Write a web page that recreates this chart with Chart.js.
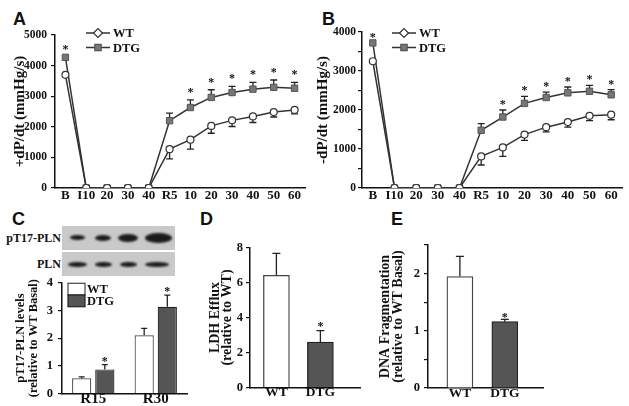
<!DOCTYPE html>
<html lang="en">
<head>
<meta charset="UTF-8">
<title>Cardiac function panels</title>
<script src="https://cdn.jsdelivr.net/npm/chart.js"></script>
<style>
  body { margin: 0; width: 629px; height: 406px; position: relative; overflow: hidden; background: #fff; }
  canvas, .letter, .blot, .blotLabel { position: absolute; }
  .letter { font: bold 18px "Liberation Sans", Arial, sans-serif; line-height: 18px; color: #111; }
  .blot { background: #c9c9c9; }
  .blot span { position: absolute; background: #1b1b1b; border-radius: 50%; filter: blur(1px); }
  .blotLabel { font: bold 12px "Liberation Serif", serif; line-height: 14px; color: #111; text-align: right; width: 80px; }
</style>
</head>
<body>
  <div class="letter" style="left:13px;top:10px">A</div>
  <div class="letter" style="left:322px;top:10px">B</div>
  <div class="letter" style="left:12px;top:210px">C</div>
  <div class="letter" style="left:200px;top:210px">D</div>
  <div class="letter" style="left:391px;top:210px">E</div>

  <!-- western blot, top: pT17-PLN, bottom: PLN -->
  <div class="blotLabel" style="left:-19px;top:231px">pT17-PLN</div>
  <div class="blotLabel" style="left:-19px;top:257px">PLN</div>
  <div class="blot" style="left:62px;top:226px;width:113px;height:24px">
    <span style="left:8px;top:9px;width:15px;height:5px"></span>
    <span style="left:33px;top:9px;width:16px;height:6px"></span>
    <span style="left:56px;top:8px;width:20px;height:8px"></span>
    <span style="left:83px;top:7px;width:27px;height:10px"></span>
  </div>
  <div class="blot" style="left:62px;top:252px;width:113px;height:24px">
    <span style="left:6px;top:10px;width:19px;height:5px"></span>
    <span style="left:33px;top:10px;width:17px;height:5px"></span>
    <span style="left:58px;top:10px;width:17px;height:5px"></span>
    <span style="left:83px;top:10px;width:24px;height:5px"></span>
  </div>

  <canvas id="chartA" width="312" height="190" style="left:0;top:20px"></canvas>
  <canvas id="chartB" width="317" height="190" style="left:312px;top:20px"></canvas>
  <canvas id="chartC" width="195" height="136" style="left:0;top:270px"></canvas>
  <canvas id="chartD" width="180" height="171" style="left:190px;top:235px"></canvas>
  <canvas id="chartE" width="190" height="176" style="left:370px;top:230px"></canvas>

<script>
// time points: baseline, ischemia, reperfusion
const timeLabels = ['B', 'I10', '20', '30', '40', 'R5', '10', '20', '30', '40', '50', '60'];

// A: +dP/dt
const wtA     = [3700, 0, 0, 0, 0, 1270, 1580, 2030, 2210, 2340, 2480, 2550];
const wtErrA  = [0, 0, 0, 0, 0, 320, 310, 240, 200, 200, 160, 130];
const dtgA    = [4270, 0, 0, 0, 0, 2200, 2630, 2960, 3120, 3230, 3290, 3260];
const dtgErrA = [0, 0, 0, 0, 0, 250, 250, 250, 200, 220, 240, 190];
const starsA  = [1, 0, 0, 0, 0, 0, 1, 1, 1, 1, 1, 1];

// B: -dP/dt
const wtB     = [3250, 0, 0, 0, 0, 810, 1040, 1370, 1560, 1690, 1850, 1880];
const wtErrB  = [0, 0, 0, 0, 0, 220, 230, 150, 120, 130, 120, 130];
const dtgB    = [3720, 0, 0, 0, 0, 1480, 1820, 2170, 2320, 2440, 2480, 2390];
const dtgErrB = [0, 0, 0, 0, 0, 170, 180, 180, 140, 150, 150, 130];
const starsB  = [1, 0, 0, 0, 0, 0, 1, 1, 1, 1, 1, 1];

// C: pT17-PLN levels
const plnLabels = ['R15', 'R30'];
const wtC     = [0.55, 2.1];
const wtErrC  = [0.05, 0.25];
const dtgC    = [0.87, 3.13];
const dtgErrC = [0.17, 0.42];
const starsC  = [1, 1];

// D: LDH efflux, E: DNA fragmentation
const groupLabels = ['WT', 'DTG'];
const ldhD     = [6.4, 2.6];
const ldhErrD  = [1.25, 0.65];
const dnaE     = [1.95, 1.16];
const dnaErrE  = [0.35, 0.04];
const groupStars = [0, 1];

const serif = '"Liberation Serif", "Times New Roman", serif';
const ink = '#111';

// vertical error bars, drawn under the markers
const errorBars = {
  id: 'errorBars',
  beforeDatasetsDraw(chart) {
    const ctx = chart.ctx, yScale = chart.scales.y;
    chart.data.datasets.forEach((ds, di) => {
      if (!ds.errors) return;
      const meta = chart.getDatasetMeta(di);
      ctx.save();
      ctx.strokeStyle = '#222';
      ctx.lineWidth = 1.3;
      meta.data.forEach((el, i) => {
        const e = ds.errors[i];
        if (!e) return;
        const v = meta.controller.getParsed(i).y;
        const y1 = yScale.getPixelForValue(v + ds.errorDir * e);
        const cap = ds.capHalf || 3.5;
        ctx.beginPath();
        ctx.moveTo(el.x, el.y);
        ctx.lineTo(el.x, y1);
        ctx.moveTo(el.x - cap, y1);
        ctx.lineTo(el.x + cap, y1);
        ctx.stroke();
      });
      ctx.restore();
    });
  }
};

// significance asterisks above the upper error bar
const starMarks = {
  id: 'starMarks',
  afterDatasetsDraw(chart, args, opts) {
    const ctx = chart.ctx, yScale = chart.scales.y;
    chart.data.datasets.forEach((ds, di) => {
      if (!ds.stars) return;
      const meta = chart.getDatasetMeta(di);
      ctx.save();
      ctx.fillStyle = ink;
      ctx.font = 'bold 12px ' + serif;
      ctx.textAlign = 'center';
      ctx.textBaseline = 'alphabetic';
      meta.data.forEach((el, i) => {
        if (!ds.stars[i]) return;
        const v = meta.controller.getParsed(i).y;
        const top = yScale.getPixelForValue(v + (ds.errors ? ds.errors[i] : 0));
        ctx.fillText('*', el.x, top + opts.lift);
      });
      ctx.restore();
    });
  }
};

// line + marker legend
const lineKey = {
  id: 'lineKey',
  afterDraw(chart, args, o) {
    const ctx = chart.ctx;
    chart.data.datasets.forEach((ds, i) => {
      const y = o.y + i * o.gap;
      ctx.save();
      ctx.strokeStyle = ds.borderColor;
      ctx.lineWidth = ds.borderWidth;
      ctx.beginPath();
      ctx.moveTo(o.x, y);
      ctx.lineTo(o.x + o.len, y);
      ctx.stroke();
      ctx.fillStyle = ds.pointBackgroundColor;
      ctx.strokeStyle = ds.pointBorderColor;
      ctx.lineWidth = 1.2;
      Chart.helpers.drawPoint(ctx, { pointStyle: ds.keyStyle, radius: 4.5, rotation: 0, borderWidth: 1.2 }, o.x + o.len / 2, y);
      ctx.fillStyle = ink;
      ctx.font = 'bold 12.5px ' + serif;
      ctx.textBaseline = 'middle';
      ctx.fillText(ds.label, o.x + o.len + 3, y + 1);
      ctx.restore();
    });
  }
};

// stacked box legend for bar panel C
const boxKey = {
  id: 'boxKey',
  afterDraw(chart, args, o) {
    const ctx = chart.ctx;
    chart.data.datasets.forEach((ds, i) => {
      const y = o.y + i * o.h;
      ctx.save();
      ctx.fillStyle = ds.backgroundColor;
      ctx.strokeStyle = ds.borderColor;
      ctx.lineWidth = 1.2;
      ctx.fillRect(o.x, y, o.w, o.h);
      ctx.strokeRect(o.x, y, o.w, o.h);
      ctx.fillStyle = ink;
      ctx.font = 'bold 12.5px ' + serif;
      ctx.textBaseline = 'middle';
      ctx.fillText(ds.label, o.x + o.w + 2, y + o.h / 2 + 1);
      ctx.restore();
    });
  }
};

function yAxis(max, step, every, lay) {
  return {
    min: 0, max: max,
    ticks: {
      stepSize: step, color: ink, padding: lay.tickPad,
      font: { family: serif, size: lay.tickSize, weight: 'bold' },
      callback: v => (Math.abs(v / every - Math.round(v / every)) < 1e-6 ? v : '')
    },
    grid: { drawOnChartArea: false, tickLength: 4, color: ink, lineWidth: 1.2 },
    border: { color: ink, width: 1.5 },
    title: {
      display: true, text: lay.title, color: ink,
      font: { family: serif, size: lay.titleSize, weight: 'bold', lineHeight: lay.titleLh },
      padding: { top: lay.titlePad, bottom: 0 }
    },
    afterFit: s => { s.width = lay.yw; }
  };
}

function xBorder(size, pad) {
  return {
    grid: { display: false, drawTicks: false },
    border: { color: ink, width: 1.5 },
    ticks: { autoSkip: false, maxRotation: 0, padding: pad, color: ink,
             font: { family: serif, size: size, weight: 'bold' } }
  };
}

function linePanel(id, wt, wtErr, dtg, dtgErr, stars, yMax, lay) {
  return new Chart(document.getElementById(id), {
    type: 'line',
    data: {
      labels: timeLabels,
      datasets: [
        { label: 'WT', data: wt, errors: wtErr, errorDir: -1, borderColor: '#333', borderWidth: 1.5,
          pointStyle: 'circle', keyStyle: 'rectRot', pointRadius: 3.5, pointBackgroundColor: '#fff',
          pointBorderColor: '#333', pointBorderWidth: 1.2, tension: 0 },
        { label: 'DTG', data: dtg, errors: dtgErr, errorDir: 1, stars: stars, borderColor: '#333', borderWidth: 1.5,
          pointStyle: 'rect', keyStyle: 'rect', pointRadius: 4.5, pointBackgroundColor: '#777',
          pointBorderColor: '#555', pointBorderWidth: 1, tension: 0 }
      ]
    },
    options: {
      responsive: false, animation: false,
      layout: { padding: { left: 0, top: lay.top, right: lay.right, bottom: 0 } },
      plugins: {
        legend: { display: false }, tooltip: { enabled: false },
        lineKey: { x: lay.keyX, y: lay.keyY, gap: 14.5, len: 24 },
        starMarks: { lift: lay.lift }
      },
      scales: {
        x: Object.assign(xBorder(13, 0), { offset: true, afterFit: s => { s.height = lay.xh; } }),
        y: yAxis(yMax, 500, 1000, lay)
      }
    },
    plugins: [errorBars, starMarks, lineKey]
  });
}

linePanel('chartA', wtA, wtErrA, dtgA, dtgErrA, starsA, 5000, {
  top: 15, right: 7, yw: 55, xh: 22, tickPad: 4, tickSize: 11.5, lift: -4,
  title: '+dP/dt (mmHg/s)', titleSize: 15, titleLh: 1.2, titlePad: 11,
  keyX: 86, keyY: 13
});

linePanel('chartB', wtB, wtErrB, dtgB, dtgErrB, starsB, 4000, {
  top: 12, right: 7, yw: 50, xh: 22, tickPad: 2, tickSize: 11.5, lift: -2,
  title: '-dP/dt (mmHg/s)', titleSize: 15, titleLh: 1.2, titlePad: 2.5,
  keyX: 80, keyY: 13
});

// C: grouped bars
new Chart(document.getElementById('chartC'), {
  type: 'bar',
  data: {
    labels: plnLabels,
    datasets: [
      { label: 'WT', data: wtC, errors: wtErrC, errorDir: 1, capHalf: 3,
        backgroundColor: '#fff', borderColor: '#444', borderWidth: 1.2,
        categoryPercentage: 0.74, barPercentage: 0.83 },
      { label: 'DTG', data: dtgC, errors: dtgErrC, errorDir: 1, stars: starsC, capHalf: 3,
        backgroundColor: '#555', borderColor: '#222', borderWidth: 1.2,
        categoryPercentage: 0.74, barPercentage: 0.83 }
    ]
  },
  options: {
    responsive: false, animation: false,
    layout: { padding: { left: 0, top: 12.7, right: 8, bottom: 0 } },
    plugins: {
      legend: { display: false }, tooltip: { enabled: false },
      boxKey: { x: 68, y: 13.3, w: 17, h: 11.7 },
      starMarks: { lift: 0 }
    },
    scales: {
      x: Object.assign(xBorder(15, -3), { afterFit: s => { s.height = 12; } }),
      y: yAxis(4, 0.5, 1, {
        yw: 62, tickPad: 5, tickSize: 12.5,
        title: ['pT17-PLN levels', '(relative to WT Basal)'], titleSize: 12.5, titleLh: 1.05, titlePad: 14.5
      })
    }
  },
  plugins: [errorBars, starMarks, boxKey]
});

// D and E: two-bar panels on a numeric x axis so the bars sit where the figure has them
function groupPanel(id, values, errs, yMax, step, every, lay) {
  const x = xBorder(13.5, -3);
  Object.assign(x, {
    type: 'linear', min: lay.xmin, max: lay.xmax, offset: false,
    afterBuildTicks: s => { s.ticks = groupLabels.map((_, i) => ({ value: i })); },
    afterFit: s => { s.height = lay.xh; }
  });
  x.ticks.callback = v => groupLabels[v];
  return new Chart(document.getElementById(id), {
    type: 'bar',
    data: {
      datasets: [{
        data: values.map((v, i) => ({ x: i, y: v })),
        errors: errs, errorDir: 1, stars: groupStars, capHalf: 4,
        backgroundColor: ['#fff', '#555'], borderColor: ['#444', '#222'], borderWidth: 1.3,
        barThickness: 26
      }]
    },
    options: {
      responsive: false, animation: false,
      layout: { padding: { left: 0, top: lay.top, right: lay.right, bottom: 0 } },
      plugins: { legend: { display: false }, tooltip: { enabled: false }, starMarks: { lift: lay.lift } },
      scales: { x: x, y: yAxis(yMax, step, every, lay) }
    },
    plugins: [errorBars, starMarks]
  });
}

groupPanel('chartD', ldhD, ldhErrD, 8, 1, 2, {
  top: 12.3, right: 10, xh: 18.3, xmin: -0.6, xmax: 1.9, lift: -1,
  yw: 60, tickPad: 3, tickSize: 12.5,
  title: ['LDH Efflux', '(relative to WT)'], titleSize: 14, titleLh: 0.86, titlePad: 19
});

groupPanel('chartE', dnaE, dnaErrE, 2.5, 0.5, 1, {
  top: 15, right: 17, xh: 18, xmin: -0.71, xmax: 1.85, lift: 2,
  yw: 58, tickPad: 4, tickSize: 12.5,
  title: ['DNA Fragmentation', '(relative to WT Basal)'], titleSize: 14, titleLh: 0.93, titlePad: 8.5
});
</script>
</body>
</html>
